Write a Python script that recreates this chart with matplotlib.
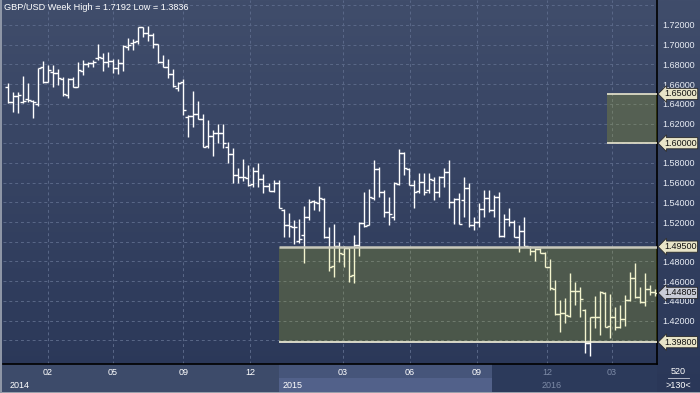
import numpy as np
import matplotlib.pyplot as plt
from matplotlib.patches import Rectangle

plt.rcParams['font.family'] = ['Liberation Sans', 'DejaVu Sans']

# weekly GBP/USD bars (oldest first)
opens = [1.6567, 1.6418, 1.6479, 1.6422, 1.6445, 1.6429, 1.6398, 1.6770, 1.6625, 1.6726,
         1.6709, 1.6648, 1.6489, 1.6652, 1.6574, 1.6736, 1.6804, 1.6811, 1.6868, 1.6862,
         1.6821, 1.6838, 1.6760, 1.6818, 1.6980, 1.7014, 1.7038, 1.7176, 1.7122, 1.7098,
         1.7004, 1.6821, 1.6777, 1.6703, 1.6557, 1.6618, 1.6263, 1.6276, 1.6293, 1.6242,
         1.5972, 1.6073, 1.6100, 1.6100, 1.5965, 1.5887, 1.5674, 1.5660, 1.5650, 1.5582,
         1.5721, 1.5633, 1.5565, 1.5518, 1.5599, 1.5322, 1.5170, 1.5153, 1.5007, 1.5068,
         1.5247, 1.5413, 1.5396, 1.5434, 1.5051, 1.4753, 1.4956, 1.4875, 1.4933, 1.4662,
         1.4967, 1.5193, 1.5170, 1.5440, 1.5735, 1.5508, 1.5305, 1.5247, 1.5586, 1.5897,
         1.5735, 1.5576, 1.5518, 1.5609, 1.5525, 1.5626, 1.5501, 1.5660, 1.5704, 1.5407,
         1.5430, 1.5423, 1.5542, 1.5170, 1.5203, 1.5332, 1.5440, 1.5322, 1.5450, 1.5058,
         1.5234, 1.5203, 1.5044, 1.5112, 1.4950, 1.4909, 1.4922, 1.4889, 1.4747, 1.4520,
         1.4263, 1.4273, 1.4246, 1.4503, 1.4503, 1.4307, 1.3968, 1.4232, 1.4239, 1.4483,
         1.4144, 1.4239, 1.4137, 1.4212, 1.4408, 1.4628, 1.4435, 1.4391, 1.4516, 1.4493]
highs = [1.6615, 1.6523, 1.6523, 1.6682, 1.6608, 1.6439, 1.6760, 1.6835, 1.6794, 1.6794,
         1.6750, 1.6676, 1.6659, 1.6676, 1.6821, 1.6845, 1.6828, 1.6845, 1.7004, 1.6912,
         1.6923, 1.6855, 1.6855, 1.6997, 1.7065, 1.7058, 1.7176, 1.7180, 1.7192, 1.7115,
         1.7007, 1.6895, 1.6851, 1.6750, 1.6625, 1.6648, 1.6286, 1.6533, 1.6429, 1.6296,
         1.6236, 1.6134, 1.6195, 1.6195, 1.6016, 1.5948, 1.5745, 1.5836, 1.5779, 1.5762,
         1.5802, 1.5687, 1.5593, 1.5626, 1.5626, 1.5332, 1.5295, 1.5220, 1.5227, 1.5363,
         1.5430, 1.5423, 1.5565, 1.5440, 1.5146, 1.5180, 1.5000, 1.4956, 1.4943, 1.5068,
         1.5203, 1.5508, 1.5532, 1.5830, 1.5755, 1.5525, 1.5457, 1.5609, 1.5938, 1.5914,
         1.5745, 1.5626, 1.5694, 1.5694, 1.5694, 1.5660, 1.5667, 1.5745, 1.5830, 1.5447,
         1.5491, 1.5660, 1.5593, 1.5247, 1.5390, 1.5525, 1.5525, 1.5474, 1.5508, 1.5281,
         1.5339, 1.5220, 1.5170, 1.5247, 1.4960, 1.4933, 1.4933, 1.4899, 1.4821, 1.4611,
         1.4408, 1.4425, 1.4679, 1.4594, 1.4543, 1.4313, 1.4239, 1.4449, 1.4503, 1.4490,
         1.4469, 1.4334, 1.4357, 1.4459, 1.4696, 1.4787, 1.4543, 1.4679, 1.4560, 1.4516]
lows = [1.6405, 1.6320, 1.6310, 1.6405, 1.6422, 1.6259, 1.6378, 1.6615, 1.6618, 1.6574,
        1.6591, 1.6479, 1.6462, 1.6567, 1.6574, 1.6692, 1.6770, 1.6777, 1.6845, 1.6736,
        1.6777, 1.6709, 1.6703, 1.6736, 1.6946, 1.6946, 1.7007, 1.7082, 1.7041, 1.6963,
        1.6818, 1.6770, 1.6659, 1.6574, 1.6533, 1.6286, 1.6060, 1.6168, 1.6242, 1.5958,
        1.5948, 1.5873, 1.5999, 1.5948, 1.5796, 1.5599, 1.5593, 1.5620, 1.5566, 1.5552,
        1.5552, 1.5491, 1.5515, 1.5508, 1.5339, 1.5044, 1.5051, 1.4977, 1.4983, 1.4780,
        1.5220, 1.5322, 1.5315, 1.5041, 1.4706, 1.4645, 1.4797, 1.4746, 1.4594, 1.4577,
        1.4855, 1.5146, 1.5170, 1.5423, 1.5457, 1.5247, 1.5170, 1.5220, 1.5576, 1.5677,
        1.5576, 1.5339, 1.5491, 1.5474, 1.5491, 1.5423, 1.5457, 1.5559, 1.5339, 1.5180,
        1.5180, 1.5247, 1.5146, 1.5119, 1.5146, 1.5247, 1.5305, 1.5247, 1.5044, 1.5044,
        1.5160, 1.5044, 1.4899, 1.4956, 1.4865, 1.4807, 1.4882, 1.4747, 1.4509, 1.4256,
        1.4087, 1.4171, 1.4239, 1.4357, 1.4239, 1.3867, 1.3836, 1.4121, 1.4053, 1.4137,
        1.4019, 1.4104, 1.4121, 1.4144, 1.4400, 1.4425, 1.4374, 1.4347, 1.4459, 1.4450]
closes = [1.6418, 1.6479, 1.6489, 1.6429, 1.6439, 1.6415, 1.6760, 1.6625, 1.6743, 1.6716,
          1.6659, 1.6500, 1.6652, 1.6574, 1.6743, 1.6801, 1.6811, 1.6821, 1.6878, 1.6828,
          1.6835, 1.6760, 1.6818, 1.6987, 1.6997, 1.7024, 1.7176, 1.7122, 1.7098, 1.7004,
          1.6828, 1.6777, 1.6703, 1.6581, 1.6615, 1.6337, 1.6276, 1.6293, 1.6249, 1.5965,
          1.6077, 1.6100, 1.6100, 1.5999, 1.5887, 1.5677, 1.5660, 1.5654, 1.5576, 1.5721,
          1.5633, 1.5569, 1.5518, 1.5599, 1.5339, 1.5170, 1.5160, 1.5146, 1.5024, 1.5247,
          1.5407, 1.5407, 1.5440, 1.5051, 1.4746, 1.4956, 1.4882, 1.4933, 1.4652, 1.4967,
          1.5193, 1.5160, 1.5457, 1.5735, 1.5508, 1.5305, 1.5281, 1.5593, 1.5897, 1.5745,
          1.5576, 1.5508, 1.5609, 1.5508, 1.5633, 1.5501, 1.5660, 1.5711, 1.5407, 1.5430,
          1.5180, 1.5542, 1.5170, 1.5203, 1.5332, 1.5440, 1.5322, 1.5450, 1.5058, 1.5234,
          1.5203, 1.5044, 1.5112, 1.4960, 1.4909, 1.4922, 1.4889, 1.4747, 1.4526, 1.4263,
          1.4273, 1.4256, 1.4503, 1.4503, 1.4415, 1.3968, 1.4232, 1.4232, 1.4493, 1.4137,
          1.4239, 1.4137, 1.4212, 1.4408, 1.4628, 1.4435, 1.4391, 1.4516, 1.4493, 1.44805]

grid_prices = [1.40, 1.42, 1.44, 1.46, 1.48, 1.50, 1.52, 1.54, 1.56, 1.58,
               1.60, 1.62, 1.64, 1.66, 1.68, 1.70, 1.72, 1.74]
# labels hidden under the price badges (or off the top) are left blank
label_prices = [1.42, 1.44, 1.46, 1.48, 1.52, 1.54, 1.56, 1.58,
                1.62, 1.64, 1.66, 1.68, 1.70, 1.72]
month_pos = [8, 21, 35, 48.3, 66.8, 80.2, 93.5, 107.5, 120.4]
month_labels = ['02', '05', '09', '12', '03', '06', '09', '12', '03']
year_labels = ['2014', '2015', '2016']
year_starts = [-0.9, 54.1, 96.5]

zone_low, zone_high, zone_start = 1.398, 1.495, 54.1
zone2_low, zone2_high, zone2_start = 1.600, 1.650, 119.4
last_price = 1.44805

x = np.arange(len(opens))
W, H = 700, 393
fig = plt.figure(figsize=(W / 100, H / 100), dpi=100)

# background gradient
bg = fig.add_axes([0, 0, 1, 1], zorder=0)
top = np.array([64, 77, 107]) / 255
bot = np.array([42, 55, 88]) / 255
t = np.linspace(0, 1, 256)[:, None]
grad = (top * (1 - t) + bot * t)[:, None, :]
bg.imshow(grad, aspect='auto', extent=[0, 1, 0, 1])
bg.set_axis_off()

ax = fig.add_axes([3 / W, 29 / H, 654 / W, 364 / H], zorder=1)
ax.patch.set_alpha(0)
xmin, xmax = -0.9, 129.4
ax.set_xlim(xmin, xmax)
ax.set_ylim(1.37584, 1.74538)

# bars
ax.vlines(x, lows, highs, color='white', lw=1.0, zorder=3)
ax.hlines(opens, x - 0.6, x, color='white', lw=1.0, zorder=3)
ax.hlines(closes, x, x + 0.6, color='white', lw=1.0, zorder=3)

# zones (translucent, drawn over the bars)
zone_fc = (0.78, 0.80, 0.05)
ax.add_patch(Rectangle((zone_start, zone_low), xmax - zone_start, zone_high - zone_low,
                       fc=zone_fc, alpha=0.2, lw=0, zorder=4))
ax.hlines(zone_high, zone_start, xmax, color='#c9c9bb', lw=1.8, zorder=5)
ax.hlines(zone_low, zone_start, xmax, color='#f4f1dc', lw=1.2, zorder=5)
ax.add_patch(Rectangle((zone2_start, zone2_low), xmax - zone2_start, zone2_high - zone2_low,
                       fc=zone_fc, alpha=0.2, lw=0, zorder=4))
ax.hlines([zone2_low, zone2_high], zone2_start, xmax, color='#e9e6cf', lw=1.2, zorder=5)

# grid
ax.set_yticks(grid_prices)
ax.set_yticklabels([f'{v:.5f}' if v in label_prices else '' for v in grid_prices])
ax.set_xticks(month_pos)
ax.set_xticklabels(month_labels)
ax.grid(True, color='#5a6888', lw=0.7, linestyle=(0, (3, 3)))
ax.set_axisbelow(True)

ax.yaxis.tick_right()
ax.tick_params(axis='y', length=0, pad=4, labelsize=6.5, labelcolor='#e8ecf4')
ax.tick_params(axis='x', length=0, pad=3, labelsize=6.5, labelcolor='white')
for lab in ax.get_xticklabels()[-2:]:
    lab.set_color('#7d8aa6')
for s in ['top', 'left']:
    ax.spines[s].set_visible(False)
for s in ['right', 'bottom']:
    ax.spines[s].set_color('black')
    ax.spines[s].set_linewidth(1.2)

# price badges on the right axis
for lvl, fc in [(zone2_high, '#e8e4c8'), (zone2_low, '#e8e4c8'), (zone_high, '#e8e4c8'),
                (last_price, '#c9ccd6'), (zone_low, '#e8e4c8')]:
    ax.text(1.0 + 7 / 654, lvl, f'{lvl:.5f}', transform=ax.get_yaxis_transform(),
            ha='left', va='center', fontsize=6.5, color='#111111', zorder=6,
            bbox=dict(boxstyle='larrow,pad=0.12', fc=fc, ec='#2a2a2a', lw=0.6),
            clip_on=False)

# time axis band
xt = ax.get_xaxis_transform()
fig.patches.append(Rectangle((0, 1 / H), 657 / W, 28 / H, transform=fig.transFigure,
                             fc='#3d4b6a', lw=0, zorder=0.5))
fig.patches.append(Rectangle((0, 0), 1, 1.5 / H, transform=fig.transFigure,
                             fc='#9aa0ac', lw=0, zorder=0.6))
fig.patches.append(Rectangle((0, 0), 1.5 / W, 1, transform=fig.transFigure,
                             fc='#8e96a6', lw=0, zorder=0.6))
row = 14 / 364
ax.add_patch(Rectangle((year_starts[1], -2 * row), year_starts[2] - year_starts[1], row,
                       transform=xt, fc='#52618a', lw=0, clip_on=False, zorder=0))
ax.add_patch(Rectangle((year_starts[1], -row), year_starts[2] - year_starts[1], row,
                       transform=xt, fc='#46557a', lw=0, clip_on=False, zorder=0))
ax.add_patch(Rectangle((year_starts[2], -2 * row), xmax - year_starts[2], 2 * row,
                       transform=xt, fc='#2c3a5b', lw=0, clip_on=False, zorder=0))
ax.text(year_starts[0] + 1.3, -1.5 * row, year_labels[0], transform=xt, ha='left',
        va='center', fontsize=6.5, color='white')
ax.text(year_starts[1] + 0.6, -1.5 * row, year_labels[1], transform=xt, ha='left',
        va='center', fontsize=6.5, color='white')
ax.text(108.5, -1.5 * row, year_labels[2], transform=xt, ha='center',
        va='center', fontsize=6.5, color='#7d8aa6')

# corner cell
fig.text(678 / W, 1 - 372 / H, '520', ha='center', va='center', fontsize=6.5, color='white')
fig.lines.append(plt.Line2D([668 / W, 689 / W], [1 - 378 / H, 1 - 378 / H],
                            transform=fig.transFigure, color='#c8ccd8', lw=0.6))
fig.text(678 / W, 1 - 385 / H, '>130<', ha='center', va='center', fontsize=6.5, color='white')

fig.text(4 / W, 1 - 8 / H, 'GBP/USD Week High = 1.7192 Low = 1.3836', ha='left',
         va='center', fontsize=6.6, color='white')

fig.savefig('out.png', dpi=100)
